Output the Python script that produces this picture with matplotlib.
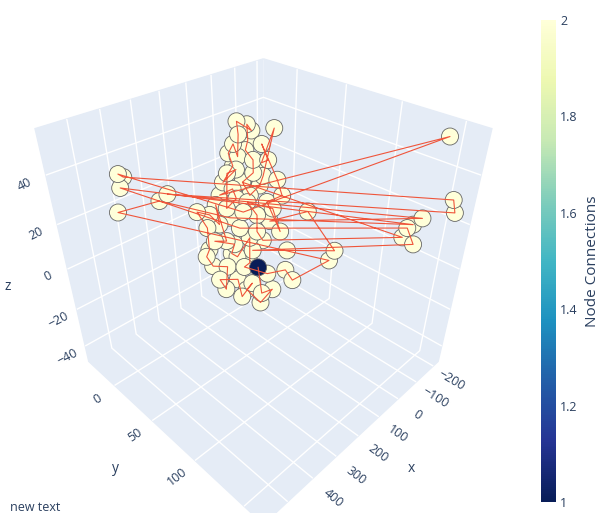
import numpy as np
import matplotlib
matplotlib.use("Agg")
import matplotlib.pyplot as plt
from matplotlib.transforms import Bbox, TransformedBbox

plt.rcParams['font.family'] = ['Open Sans', 'DejaVu Sans']

# posiciones de los nodos (x, y, z)
node_x = [69, 50, 0, 82, 66, 103, 44, 84, 49, 80, 108, 128, 95, 152, 78, 55, 169, 128, 157, 96,
          63, 191, 161, 129, 102, 193, 164, 139, 98, 260, 236, 28, 118, 257, 227, 190, 159, 155, 220, 233,
          277, 189, 118, 21, 44, 292, 289, 261, 228, 245, 188, 145, 144, 292, 254, 249, 268, 236, 223,
          435, 427, 446, 478, 383, 360,
          -211, -217, -207, -200, -174, -157, -137, -149,
          197, 209, -21,
          258, 236, 227, 290, 230, 195, 181, 211, 143, 127, 47, 123, 65, 111]
node_y = [9, 15, 31, 14, 20, 14, 29, 22, 37, 29, 20, 20, 33, 20, 39, 48, 20, 30, 27, 40,
          55, 22, 32, 38, 49, 30, 40, 48, 54, 16, 23, 73, 56, 26, 31, 43, 53, 58, 45, 40,
          33, 56, 74, 99, 99, 34, 40, 48, 50, 76, 71, 79, 86, 48, 57, 65, 65, 76, 74,
          -12, -9, -7, -1, 15, 17,
          143, 154, 158, 135, 132, 130, 130, 138,
          34, 58, -10,
          34, 46, 57, 54, 66, 78, 51, 23, 39, 23, 19, 14, 34, 65]
node_z = [47, 46, 45, 43, 41, 40, 40, 38, 35, 35, 36, 33, 31, 31, 30, 29, 28, 28, 26, 27,
          24, 24, 23, 24, 22, 20, 19, 18, 20, 19, 18, 19, 16, 14, 15, 14, 13, 10, 9, 10,
          7, 7, 7, 7, 4, 5, 2, 2, 5, 8, 0, 1, -2, -2, -2, -5, -7, -9, -6,
          38, 37, 34, 27, 30, 32,
          51, 28, 24, 17, 15, 14, 11, 9,
          17, 3, 13,
          10, 6, 2, -5, -3, -5, 11, 21, 22, 32, 44, 37, 34, 13]

# orden del camino (cada nodo se une con el siguiente)
path = [49, 58, 81, 57, 55, 80, 56, 54, 53, 79, 47, 46, 45, 40, 33, 29, 30, 34, 83, 39,
        76, 38, 77, 48, 82, 74, 78, 50, 51, 52, 44, 62, 63, 73, 69, 61, 35, 70, 72, 41,
        42, 43, 31, 32, 68, 64, 67, 66, 60, 59, 26, 65, 21, 18, 22, 25, 13, 85, 16, 11,
        87, 5, 10, 3, 0, 86, 1, 4, 7, 9, 12, 17, 23, 19, 14, 2, 88, 8, 6, 15,
        20, 24, 89, 28, 84, 27, 36, 37, 71, 75]

x_ticks = [-200, -100, 0, 100, 200, 300, 400, 500]
y_ticks = [0, 50, 100, 150]
z_ticks = [-40, -20, 0, 20, 40]
x_labels = ['\u2212200', '\u2212100', '0', '100', '200', '300', '400']
y_labels = ['0', '50', '100']
z_labels = ['\u221240', '\u221220', '0', '20', '40']

node_x = np.array(node_x)
node_y = np.array(node_y)
node_z = np.array(node_z)

# conexiones de cada nodo
conexiones = np.zeros(len(node_x))
for a, b in zip(path[:-1], path[1:]):
    conexiones[a] += 1
    conexiones[b] += 1

texto = '#2a3f5f'
fondo = '#E5ECF6'
xlim, ylim, zlim = (-230, 590), (-38, 168), (-49, 57)

fig = plt.figure(figsize=(6.13, 5.25), dpi=100)
ax = fig.add_axes([2.6/613, 3.6/525, 508/613, 508/525], projection='3d')
ax.set_proj_type('persp', focal_length=0.2208)
ax.view_init(elev=35.26, azim=45)
ax.set_box_aspect((1, 1, 1), zoom=0.9268)
ax.computed_zorder = False

# aristas
ax.plot(node_x[path], node_y[path], node_z[path], color='#EF553B', lw=0.8, zorder=3)
# nodos
ax.scatter(node_x, node_y, node_z, c=conexiones, cmap='YlGnBu_r', vmin=1, vmax=2,
           s=150, edgecolors='#666666', linewidths=0.6, depthshade=False, alpha=1, zorder=2)

ax.set_xticks(x_ticks)
ax.set_yticks(y_ticks)
ax.set_zticks(z_ticks)
ax.set_zticklabels(z_labels)
ax.tick_params(axis='x', labelbottom=False)
ax.tick_params(axis='y', labelleft=False)

# etiquetas de x e y pegadas al borde, giradas como el eje
for v, lab in zip(x_ticks, x_labels):
    ax.text(v, ylim[1] + 18, zlim[0] - 2, lab, zdir='y', color=texto, fontsize=9,
            ha='center', va='center')
for v, lab in zip(y_ticks, y_labels):
    ax.text(xlim[1] + 64, v, zlim[0] - 1.5, lab, zdir='x', color=texto, fontsize=9,
            ha='center', va='center')

ax.set_xlim(*xlim)
ax.set_ylim(*ylim)
ax.set_zlim(*zlim)

# recorte de la escena como en la imagen original
recorte = TransformedBbox(Bbox([[0, 12/525], [1, 1]]), fig.transFigure)
for eje in (ax.xaxis, ax.yaxis, ax.zaxis):
    eje.set_pane_color(fondo)
    eje.pane.set_edgecolor(fondo)
    eje.pane.set_clip_box(recorte)
    eje.gridlines.set_clip_box(recorte)
    eje.line.set_color((1, 1, 1, 0))
    eje._axinfo['grid'].update({'color': 'white', 'linewidth': 1.0})
    eje._axinfo['tick']['inward_factor'] = 0
    eje._axinfo['tick']['outward_factor'] = 0
    eje.label.set_visible(False)
    eje.offsetText.set_visible(False)

ax.tick_params(axis='z', labelsize=9, labelcolor=texto, labelrotation=27, pad=1.5)

# titulos de los ejes
fig.text(411/613, 1 - 468/525, 'x', color=texto, fontsize=10, ha='center', va='center')
fig.text(115/613, 1 - 468/525, 'y', color=texto, fontsize=10, ha='center', va='center')
fig.text(8/613, 1 - 287/525, 'z', color=texto, fontsize=10, ha='center', va='center')

# barra de color
cax = fig.add_axes([541/613, 23/525, 15/613, 482/525])
sm = plt.cm.ScalarMappable(cmap='YlGnBu_r', norm=plt.Normalize(1, 2))
cb = fig.colorbar(sm, cax=cax, ticks=[1, 1.2, 1.4, 1.6, 1.8, 2])
cb.ax.set_yticklabels(['1', '1.2', '1.4', '1.6', '1.8', '2'])
cb.outline.set_visible(False)
cb.ax.tick_params(length=0, labelsize=9, labelcolor=texto, pad=3)
cb.set_label('Node Connections', color=texto, fontsize=11, labelpad=5)

# titulos vacios fuera
for a in (ax, cax):
    for t in (a.title, a._left_title, a._right_title):
        t.set_visible(False)

fig.text(10/613, 1 - 511/525, 'new text', fontsize=9, color=texto)

fig.savefig('out.png', dpi=100)
